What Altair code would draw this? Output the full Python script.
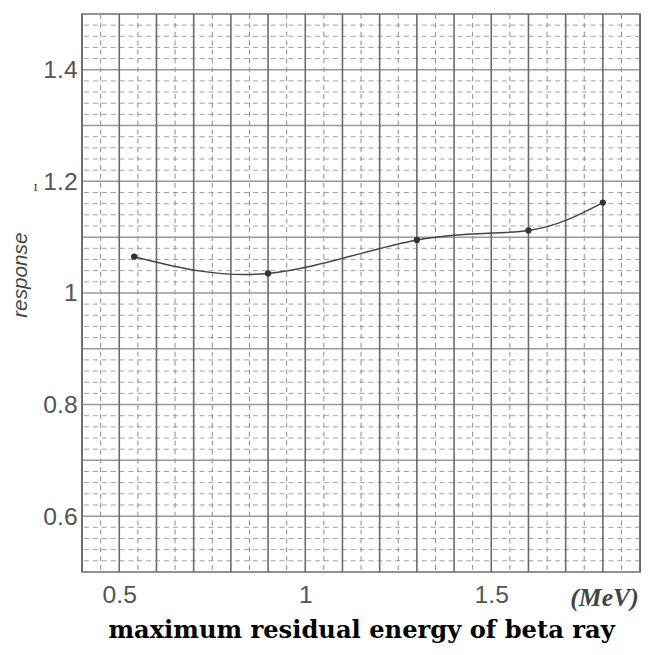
import altair as alt
import pandas as pd

# data
energy = [0.54, 0.90, 1.30, 1.60, 1.80]
response = [1.065, 1.035, 1.095, 1.112, 1.162]

x_ticks = [0.5, 1.0, 1.5]
y_ticks = [0.6, 0.8, 1.0, 1.2, 1.4]

# graph-paper grid positions
x_major = [round(0.4 + 0.1 * i, 2) for i in range(16)]
x_minor = [round(0.45 + 0.1 * i, 3) for i in range(15)]
y_major = [round(0.5 + 0.1 * i, 2) for i in range(11)]
y_minor = [round(0.5 + 0.02 * i, 3) for i in range(51) if i % 5 != 0]

xscale = alt.Scale(domain=[0.4, 1.9], nice=False, zero=False)
yscale = alt.Scale(domain=[0.5, 1.5], nice=False, zero=False)

df = pd.DataFrame({"energy": energy, "response": response})

label_expr = "datum.value == 1 ? '1' : format(datum.value, '.1f')"

x_axis = alt.Axis(
    values=x_ticks,
    labelExpr=label_expr,
    grid=False,
    ticks=False,
    domain=False,
    labelFont="Liberation Sans",
    labelFontSize=25,
    labelColor="#555555",
    labelPadding=11,
    title="maximum residual energy of beta ray",
    titleFont="DejaVu Serif",
    titleFontSize=24.5,
    titleFontWeight="bold",
    titleColor="#000000",
    titleBaseline="alphabetic",
    titleY=66,
)

y_axis = alt.Axis(
    values=y_ticks,
    labelExpr=label_expr,
    grid=False,
    ticks=False,
    domain=False,
    labelFont="Liberation Sans",
    labelFontSize=25,
    labelColor="#555555",
    labelPadding=5,
    title="response",
    titleFont="Liberation Sans",
    titleFontSize=21,
    titleFontStyle="italic",
    titleFontWeight="normal",
    titleColor="#444444",
    titleBaseline="alphabetic",
    titleX=-56,
    titleY=264,
    titleAngle=270,
)

h_minor = alt.Chart(pd.DataFrame({"y": y_minor})).mark_rule(
    color="#a0a0a0", strokeWidth=1, strokeDash=[5, 4]
).encode(y=alt.Y("y:Q", scale=yscale, axis=y_axis))

v_minor = alt.Chart(pd.DataFrame({"x": x_minor})).mark_rule(
    color="#8a8a8a", strokeWidth=1, strokeDash=[5, 4]
).encode(x=alt.X("x:Q", scale=xscale, axis=x_axis))

h_major = alt.Chart(pd.DataFrame({"y": y_major})).mark_rule(
    color="#999999", strokeWidth=1.5
).encode(y=alt.Y("y:Q", scale=yscale, axis=y_axis))

v_major = alt.Chart(pd.DataFrame({"x": x_major})).mark_rule(
    color="#6a6a6a", strokeWidth=1.6
).encode(x=alt.X("x:Q", scale=xscale, axis=x_axis))

line = alt.Chart(df).mark_line(
    interpolate="natural", color="#444444", strokeWidth=1.5
).encode(
    x=alt.X("energy:Q", scale=xscale, axis=x_axis),
    y=alt.Y("response:Q", scale=yscale, axis=y_axis),
)

points = alt.Chart(df).mark_circle(size=40, color="#333333", opacity=1).encode(
    x=alt.X("energy:Q", scale=xscale, axis=x_axis),
    y=alt.Y("response:Q", scale=yscale, axis=y_axis),
)

unit = alt.Chart(pd.DataFrame({"t": ["(MeV)"]})).mark_text(
    font="Liberation Serif", fontSize=26, fontStyle="italic", fontWeight="bold",
    color="#444444", baseline="middle", align="center",
).encode(x=alt.value(529), y=alt.value(591), text="t:N")

stray = alt.Chart(pd.DataFrame({"t": ["I"]})).mark_text(
    font="Liberation Serif", fontSize=11, color="#222222", baseline="middle", align="center",
).encode(x=alt.value(-47), y=alt.value(176), text="t:N")

chart = alt.layer(h_minor, v_minor, h_major, v_major, line, points, unit, stray).properties(
    width=565,
    height=565,
    autosize=alt.AutoSizeParams(type="none"),
    padding={"left": 75, "top": 2, "right": 5, "bottom": 74},
    background="white",
).configure_view(stroke="#555555", strokeWidth=1.5)

chart.save("out.html", embed_options={"renderer": "svg", "actions": False})
